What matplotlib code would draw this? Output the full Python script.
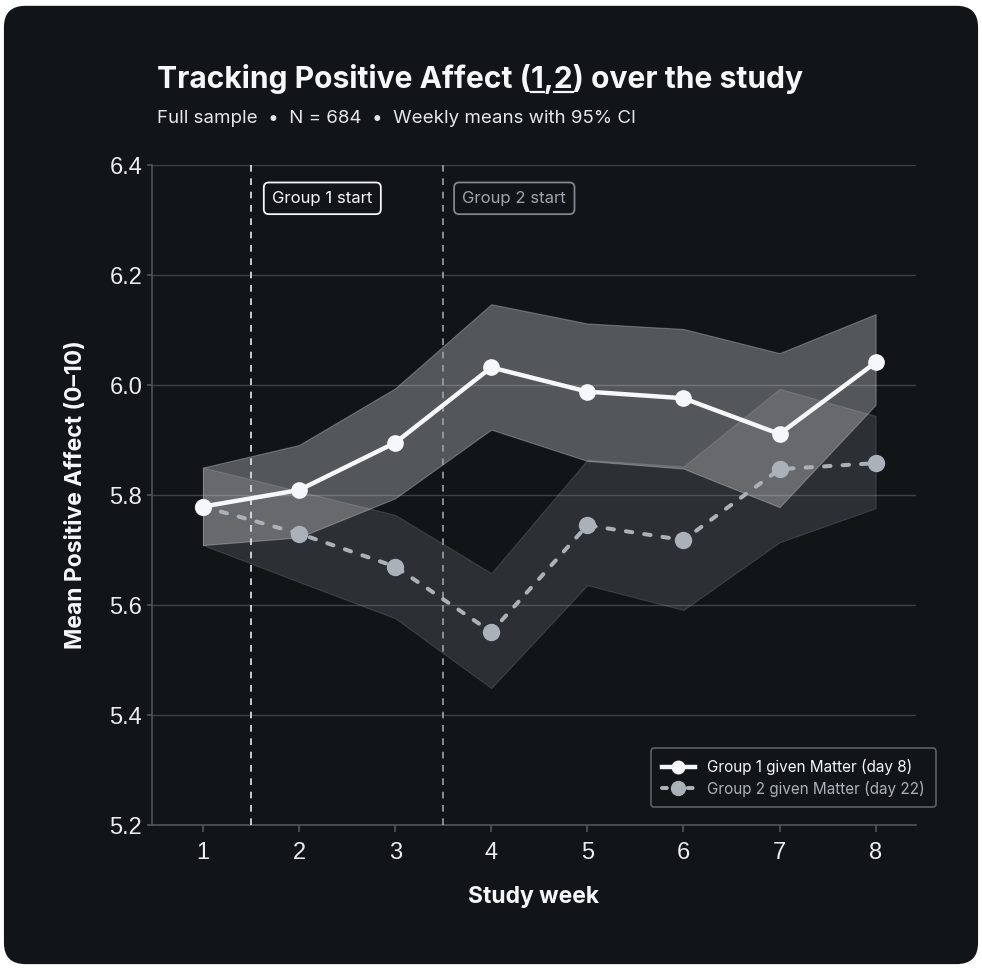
import matplotlib.pyplot as plt
from matplotlib.patches import FancyBboxPatch
from matplotlib.lines import Line2D

# weekly means and 95% CI bounds
weeks = [1, 2, 3, 4, 5, 6, 7, 8]
g1_mean = [5.779, 5.809, 5.895, 6.032, 5.988, 5.976, 5.911, 6.041]
g1_low = [5.709, 5.723, 5.794, 5.919, 5.862, 5.848, 5.778, 5.964]
g1_high = [5.850, 5.891, 5.994, 6.147, 6.112, 6.102, 6.058, 6.129]
g2_mean = [5.779, 5.730, 5.670, 5.551, 5.745, 5.718, 5.847, 5.858]
g2_low = [5.709, 5.642, 5.576, 5.449, 5.636, 5.591, 5.714, 5.776]
g2_high = [5.850, 5.807, 5.764, 5.658, 5.864, 5.852, 5.993, 5.944]
yticks = [5.2, 5.4, 5.6, 5.8, 6.0, 6.2, 6.4]

BG = "#121518"
G1 = "#f5f7fa"
G2 = "#aab1b9"
GRID = "#3c4147"
SPINE = "#50555c"

fig = plt.figure(figsize=(9.82, 9.68), dpi=100)
fig.patch.set_facecolor("white")

# dark rounded card
card = FancyBboxPatch((0.004, 0.004), 0.992, 0.99, boxstyle="round,pad=0,rounding_size=0.022",
                      transform=fig.transFigure, facecolor=BG, edgecolor="none", zorder=-10)
fig.patches.append(card)

ax = fig.add_axes([0.1548, 0.1477, 0.778, 0.6818])
ax.set_facecolor(BG)

# bands
ax.fill_between(weeks, g2_low, g2_high, color="#b4bcc4", alpha=0.16, lw=0.8,
                edgecolor=(0.8, 0.82, 0.85, 0.25), zorder=2)
ax.fill_between(weeks, g1_low, g1_high, color="#f0f2f5", alpha=0.30, lw=0.8,
                edgecolor=(0.9, 0.92, 0.94, 0.45), zorder=3)

# lines
ax.plot(weeks, g2_mean, color=G2, lw=2.9, linestyle=(0, (1.6, 3)), dash_capstyle="round",
        marker="o", ms=11.5, zorder=5, label="Group 2 given Matter (day 22)")
ax.plot(weeks, g1_mean, color=G1, lw=3.2, marker="o", ms=11, zorder=6,
        solid_capstyle="round", label="Group 1 given Matter (day 8)")

# group start markers
ax.axvline(1.5, color="#e8eaed", lw=1.2, linestyle=(0, (4, 4)), zorder=4)
ax.axvline(3.5, color="#9ca2a9", lw=1.2, linestyle=(0, (4, 4)), zorder=4)
ax.text(1.72, 6.3395, "Group 1 start", color=G1, fontsize=12, family="Inter", va="center", ha="left",
        bbox=dict(boxstyle="round,pad=0.5,rounding_size=0.3", fc=BG, ec=G1, lw=1.3), zorder=7)
ax.text(3.70, 6.3395, "Group 2 start", color="#a0a6ad", fontsize=12, family="Inter", va="center", ha="left",
        bbox=dict(boxstyle="round,pad=0.5,rounding_size=0.3", fc=BG, ec="#80868d", lw=1.3), zorder=7)

ax.set_xlim(0.47, 8.42)
ax.set_ylim(5.2, 6.4)
ax.set_xticks(weeks)
ax.set_yticks(yticks)
ax.set_yticklabels([f"{v:.1f}" for v in yticks])
ax.grid(axis="y", color=GRID, lw=1.0, zorder=0)
ax.set_axisbelow(True)
for s in ["top", "right"]:
    ax.spines[s].set_visible(False)
for s in ["left", "bottom"]:
    ax.spines[s].set_color(SPINE)
    ax.spines[s].set_linewidth(1.2)
ax.tick_params(colors=SPINE, width=1.2, labelcolor="#eceef1", labelsize=17)
for lab in ax.get_xticklabels() + ax.get_yticklabels():
    lab.set_family("Liberation Sans")
ax.tick_params(axis="x", length=5, pad=7)
ax.tick_params(axis="y", length=3.5, pad=3.5)

ax.set_xlabel("Study week", color=G1, fontsize=16.5, fontweight="bold", family="Inter", labelpad=16)
ax.set_ylabel("Mean Positive Affect (0–10)", color=G1, fontsize=16.5, fontweight="bold", family="Inter",
              labelpad=16)

# legend
h1 = Line2D([], [], color=G1, lw=3.2, marker="o", ms=9)
h2 = Line2D([], [], color=G2, lw=2.9, linestyle=(0, (1.2, 2)), dash_capstyle="round", marker="o", ms=10)
leg = ax.legend([h1, h2], ["Group 1 given Matter (day 8)", "Group 2 given Matter (day 22)"],
                loc="lower right", bbox_to_anchor=(1.026, 0.027), borderaxespad=0,
                prop={"family": "Inter", "size": 11}, facecolor=BG, edgecolor="#5b6168",
                framealpha=1, handlelength=2.2, handletextpad=0.8, labelspacing=0.35,
                borderpad=0.7, fancybox=True)
leg.get_frame().set_linewidth(1.2)
leg.get_texts()[0].set_color(G1)
leg.get_texts()[1].set_color(G2)
leg.set_zorder(10)

# title with underlined 1 and 2
tx, ty = 157 / 982, 1 - 88 / 968
tprops = dict(fontsize=21.6, fontweight="bold", family="Inter", color=G1)
parts = ["Tracking Positive Affect (", "1", ",", "2", ") over the study"]
fig.text(tx, ty, "".join(parts), va="baseline", ha="left", **tprops)
renderer = fig.canvas.get_renderer()


def text_width(s):
    t = fig.text(0, 0, s, **tprops)
    w = t.get_window_extent(renderer).width
    t.remove()
    return w


x0 = tx * fig.bbox.width
for idx in (1, 3):
    start = x0 + text_width("".join(parts[:idx]))
    w = text_width(parts[idx])
    y = ty * fig.bbox.height - 4
    fig.add_artist(Line2D([start / fig.bbox.width, (start + w) / fig.bbox.width],
                          [y / fig.bbox.height] * 2, color=G1, lw=1.6,
                          transform=fig.transFigure))

fig.text(tx, 1 - 123 / 968, "Full sample  \u2022  N = 684  \u2022  Weekly means with 95% CI",
         fontsize=13.5, family="Inter", color="#e4e6e9", va="baseline", ha="left")

fig.savefig("out.png", dpi=100, facecolor="white")
